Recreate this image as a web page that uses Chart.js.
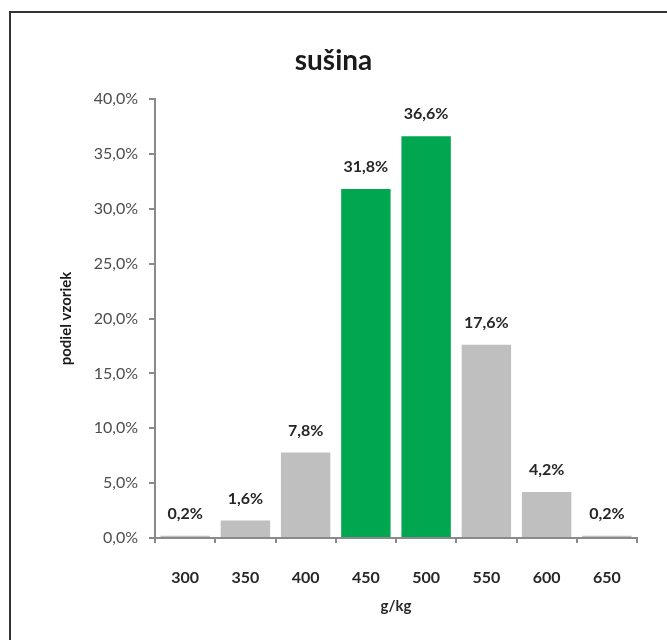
<!DOCTYPE html>
<html>
<head>
<meta charset="utf-8">
<script src="https://cdn.jsdelivr.net/npm/chart.js@4/dist/chart.umd.min.js"></script>
<style>
  html, body { margin: 0; padding: 0; background: #ffffff; }
  #wrap { position: relative; width: 667px; height: 640px; }
</style>
</head>
<body>
<div id="wrap"><canvas id="chart" width="667" height="640"></canvas></div>
<script>
// Podiel vzoriek podľa obsahu sušiny (g/kg)
const categories = ['300', '350', '400', '450', '500', '550', '600', '650'];
const shares = [0.2, 1.6, 7.8, 31.8, 36.6, 17.6, 4.2, 0.2];
const barColors = ['#bfbfbf', '#bfbfbf', '#bfbfbf', '#00a650', '#00a650', '#bfbfbf', '#bfbfbf', '#bfbfbf'];
const chartTitle = 'sušina';

const FONT = 'Lato, "Open Sans", sans-serif';
const pct = v => v.toFixed(1).replace('.', ',') + '%';

// White page, frame lines on the top and left edges, and the centred heading
const framePlugin = {
  id: 'frame',
  beforeDraw(chart) {
    const ctx = chart.ctx;
    ctx.save();
    ctx.fillStyle = '#ffffff';
    ctx.fillRect(0, 0, chart.width, chart.height);
    ctx.strokeStyle = '#333333';
    ctx.lineWidth = 2;
    ctx.beginPath();
    ctx.moveTo(10, chart.height);
    ctx.lineTo(10, 12);
    ctx.lineTo(chart.width, 12);
    ctx.stroke();
    ctx.font = 'bold 28px ' + FONT;
    ctx.fillStyle = '#1a1a1a';
    ctx.textAlign = 'center';
    ctx.textBaseline = 'middle';
    ctx.fillText(chartTitle, chart.width / 2, 61);
    ctx.restore();
  }
};

// Value labels above each bar
const valueLabels = {
  id: 'valueLabels',
  afterDatasetsDraw(chart) {
    const ctx = chart.ctx;
    const meta = chart.getDatasetMeta(0);
    ctx.save();
    ctx.font = 'bold 16px ' + FONT;
    ctx.fillStyle = '#262626';
    ctx.textAlign = 'center';
    ctx.textBaseline = 'middle';
    meta.data.forEach((bar, i) => {
      ctx.fillText(pct(shares[i]), bar.x, bar.y - 22);
    });
    ctx.restore();
  }
};

new Chart(document.getElementById('chart'), {
  type: 'bar',
  data: {
    labels: categories,
    datasets: [{
      data: shares,
      backgroundColor: barColors,
      borderWidth: 0,
      categoryPercentage: 1.0,
      barPercentage: 0.82
    }]
  },
  options: {
    responsive: false,
    animation: false,
    layout: { padding: { top: 99, right: 30, bottom: 0, left: 0 } },
    plugins: {
      legend: { display: false },
      tooltip: { enabled: false },
      title: { display: false }
    },
    scales: {
      x: {
        grid: {
          offset: true,
          drawOnChartArea: false,
          drawTicks: true,
          tickLength: 5,
          color: '#8a8a8a',
          lineWidth: 2
        },
        border: { display: true, color: '#8a8a8a', width: 2 },
        ticks: {
          color: '#262626',
          font: { family: FONT, size: 16, weight: 'bold' },
          padding: 25,
          autoSkip: false,
          maxRotation: 0
        },
        title: {
          display: true,
          text: 'g/kg',
          color: '#262626',
          font: { family: FONT, size: 15, weight: 'bold' },
          padding: { top: 0, bottom: 25 }
        },
        afterFit(scale) { scale.height = 102; }
      },
      y: {
        min: 0,
        max: 40,
        grid: {
          drawOnChartArea: false,
          drawTicks: true,
          tickLength: 6,
          color: '#8a8a8a',
          lineWidth: 2
        },
        border: { display: true, color: '#8a8a8a', width: 2 },
        ticks: {
          stepSize: 5,
          color: '#4d4d4d',
          font: { family: FONT, size: 16 },
          padding: 11,
          callback: v => pct(v)
        },
        title: {
          display: true,
          text: 'podiel vzoriek',
          color: '#1a1a1a',
          font: { family: FONT, size: 15, weight: 'bold' },
          padding: { top: 57, bottom: 0 }
        },
        afterFit(scale) { scale.width = 155; }
      }
    }
  },
  plugins: [framePlugin, valueLabels]
});
</script>
</body>
</html>
